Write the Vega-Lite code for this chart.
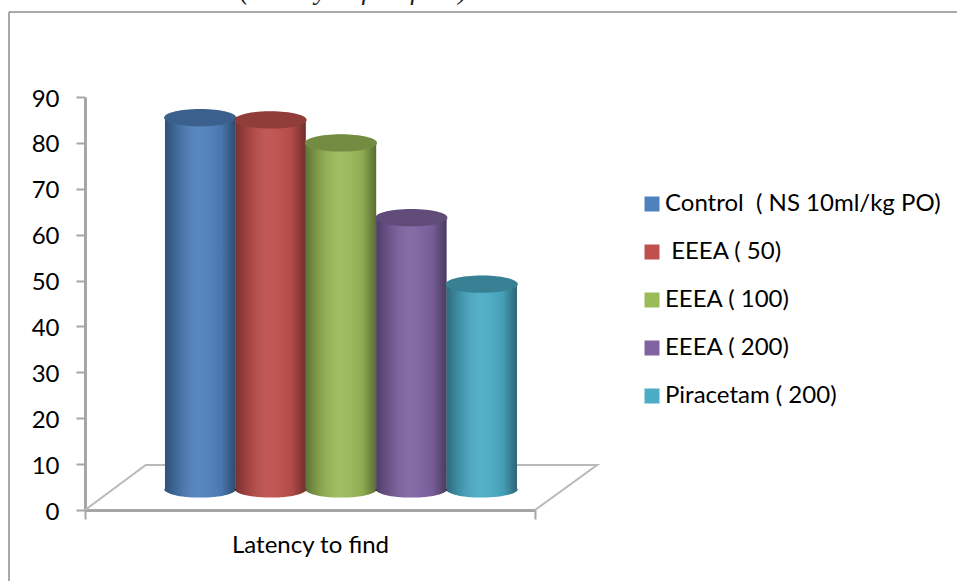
{
  "$schema": "https://vega.github.io/schema/vega-lite/v6.json",
  "width": 450,
  "height": 413,
  "autosize": "none",
  "padding": {"left": 85, "top": 97, "right": 422, "bottom": 71},
  "background": "white",
  "view": {"stroke": null},
  "config": {"font": "Lato"},
  "datasets": {
    "groups": [
      {"group": "Control\u00a0\u00a0( NS 10ml/kg PO)", "latency": 85.5, "floor": 4.6},
      {"group": "\u200b\u00a0EEEA ( 50)", "latency": 85, "floor": 4.6},
      {"group": "EEEA ( 100)", "latency": 80, "floor": 4.6},
      {"group": "EEEA ( 200)", "latency": 63.7, "floor": 4.6},
      {"group": "Piracetam ( 200)", "latency": 49.2, "floor": 4.6}
    ],
    "floorOutline": [
      {"seq": 1, "px": 0, "py": 0},
      {"seq": 2, "px": 13.5, "py": 9.8},
      {"seq": 3, "px": 113.8, "py": 9.8},
      {"seq": 4, "px": 100, "py": 0}
    ]
  },
  "resolve": {"scale": {"x": "independent"}, "axis": {"x": "independent"}},
  "layer": [
    {
      "data": {"name": "floorOutline"},
      "mark": {"type": "line", "stroke": "#b9b9b9", "strokeWidth": 2},
      "encoding": {
        "x": {
          "field": "px",
          "type": "quantitative",
          "scale": {"domain": [0, 100], "nice": false, "zero": false},
          "axis": {
            "values": [0, 100],
            "labels": false,
            "grid": false,
            "domainColor": "#a6a6a6",
            "domainWidth": 3,
            "tickColor": "#a6a6a6",
            "tickWidth": 2,
            "tickSize": 9,
            "title": "Latency to find",
            "titleFontSize": 24,
            "titleFontWeight": "normal",
            "titleColor": "#000000",
            "titlePadding": 13
          }
        },
        "y": {
          "field": "py",
          "type": "quantitative",
          "scale": {"domain": [0, 90], "nice": false},
          "axis": {
            "values": [0, 10, 20, 30, 40, 50, 60, 70, 80, 90],
            "title": null,
            "grid": false,
            "domainColor": "#a6a6a6",
            "domainWidth": 3,
            "tickColor": "#a6a6a6",
            "tickWidth": 2,
            "tickSize": 9,
            "labelFontSize": 24,
            "labelColor": "#000000",
            "labelPadding": 17,
            "labelOffset": 2
          }
        },
        "order": {"field": "seq"}
      }
    },
    {
      "data": {"name": "groups"},
      "encoding": {
        "x": {
          "field": "group",
          "type": "nominal",
          "sort": null,
          "scale": {"paddingInner": 0, "paddingOuter": 0.696, "align": 0.816},
          "axis": null
        }
      },
      "layer": [
        {
          "mark": {"type": "point", "shape": "M-1,0 A1,0.24 0 0 0 1,0 Z", "size": 5184, "filled": true, "opacity": 1},
          "encoding": {
            "y": {"field": "floor", "type": "quantitative"},
            "color": {"field": "group", "type": "nominal", "sort": null,
              "scale": {"range": ["#4f81bd", "#c0504d", "#9bbb59", "#8064a2", "#4bacc6"]},
              "legend": {
                "title": null,
                "orient": "none",
                "legendX": 555,
                "legendY": 95,
                "symbolType": "square",
                "symbolSize": 225,
                "symbolOpacity": 1,
                "symbolStrokeWidth": 0,
                "labelFontSize": 24,
                "labelColor": "#000000",
                "labelLimit": 320,
                "labelOffset": 1,
                "rowPadding": 24
              }
            }
          }
        },
        {
          "mark": {"type": "bar", "width": {"band": 1}},
          "encoding": {
            "y": {"field": "latency", "type": "quantitative"},
            "y2": {"field": "floor"},
            "color": {"field": "group", "type": "nominal", "sort": null}
          }
        },
        {
          "mark": {
            "type": "point",
            "shape": "M-1,0 A1,0.24 0 0 0 1,0 Z",
            "size": 5184,
            "filled": true,
            "opacity": 1,
            "color": {
              "gradient": "linear",
              "x1": 0, "x2": 1, "y1": 0, "y2": 0,
              "stops": [
                {"offset": 0, "color": "rgba(0,0,0,0.38)"},
                {"offset": 0.2, "color": "rgba(0,0,0,0.14)"},
                {"offset": 0.5, "color": "rgba(255,255,255,0.05)"},
                {"offset": 0.8, "color": "rgba(0,0,0,0.08)"},
                {"offset": 1, "color": "rgba(0,0,0,0.42)"}
              ]
            }
          },
          "encoding": {
            "y": {"field": "floor", "type": "quantitative"}
          }
        },
        {
          "mark": {
            "type": "bar",
            "width": {"band": 1},
            "color": {
              "gradient": "linear",
              "x1": 0, "x2": 1, "y1": 0, "y2": 0,
              "stops": [
                {"offset": 0, "color": "rgba(0,0,0,0.38)"},
                {"offset": 0.2, "color": "rgba(0,0,0,0.14)"},
                {"offset": 0.5, "color": "rgba(255,255,255,0.05)"},
                {"offset": 0.8, "color": "rgba(0,0,0,0.08)"},
                {"offset": 1, "color": "rgba(0,0,0,0.42)"}
              ]
            }
          },
          "encoding": {
            "y": {"field": "latency", "type": "quantitative"},
            "y2": {"field": "floor"}
          }
        },
        {
          "mark": {"type": "point", "shape": "M-1,0 A1,0.24 0 1 1 1,0 A1,0.24 0 1 1 -1,0 Z", "size": 5184, "filled": true, "opacity": 1},
          "encoding": {
            "y": {"field": "latency", "type": "quantitative"},
            "color": {"field": "group", "type": "nominal", "sort": null}
          }
        },
        {
          "mark": {"type": "point", "shape": "M-1,0 A1,0.24 0 1 1 1,0 A1,0.24 0 1 1 -1,0 Z", "size": 5184, "filled": true, "color": "#000000", "opacity": 0.25},
          "encoding": {
            "y": {"field": "latency", "type": "quantitative"}
          }
        }
      ]
    },
    {
      "data": {"values": [{"frame": 1}]},
      "mark": {"type": "rule", "stroke": "#8c8c8c", "strokeWidth": 1.5},
      "encoding": {
        "x": {"value": -76},
        "y": {"value": -85},
        "y2": {"value": 484}
      }
    },
    {
      "data": {"values": [{"frame": 1}]},
      "mark": {"type": "rule", "stroke": "#8c8c8c", "strokeWidth": 1.5},
      "encoding": {
        "y": {"value": -85},
        "x": {"value": -76},
        "x2": {"value": 872}
      }
    },
    {
      "data": {"values": [{"caption": "(latency to find food)"}]},
      "mark": {"type": "text", "font": "Liberation Serif", "fontStyle": "italic", "fontSize": 27, "align": "left", "baseline": "alphabetic", "color": "#222222"},
      "encoding": {
        "text": {"field": "caption"},
        "x": {"value": 155},
        "y": {"value": -98}
      }
    }
  ]
}
